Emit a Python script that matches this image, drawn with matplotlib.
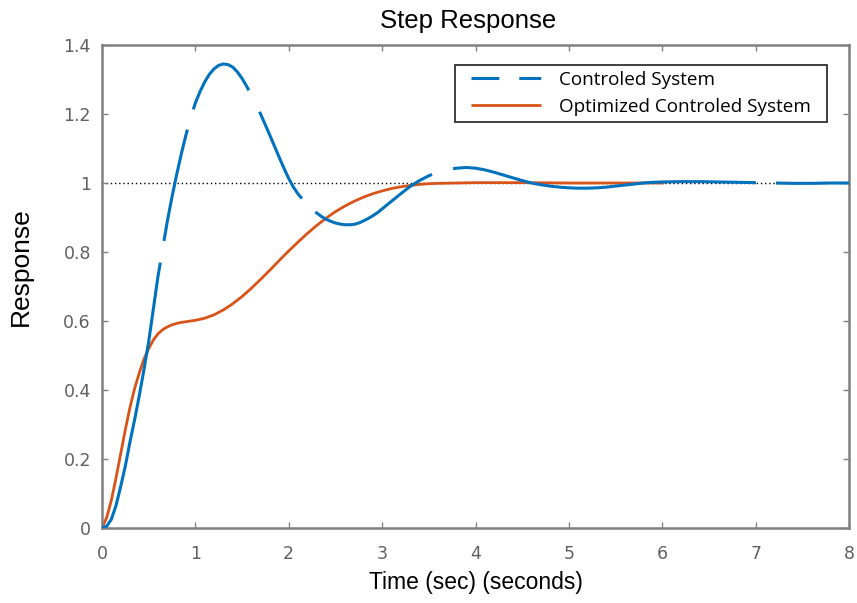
import matplotlib
matplotlib.use("Agg")
import matplotlib.pyplot as plt
from matplotlib.lines import Line2D

# ---- data ----
t_ctrl = [0.00, 0.05, 0.10, 0.15, 0.20, 0.25, 0.30, 0.35, 0.40, 0.45, 0.50, 0.55, 0.60, 0.65,
          0.70, 0.75, 0.80, 0.85, 0.90, 0.95, 1.00, 1.05, 1.10, 1.15, 1.20, 1.25, 1.30, 1.35,
          1.40, 1.45, 1.50, 1.55, 1.60, 1.65, 1.70, 1.75, 1.80, 1.85, 1.90, 1.95, 2.00, 2.05,
          2.10, 2.15, 2.20, 2.25, 2.30, 2.35, 2.40, 2.45, 2.50, 2.55, 2.60, 2.65, 2.70, 2.75,
          2.80, 2.85, 2.90, 2.95, 3.00, 3.10, 3.20, 3.30, 3.40, 3.50, 3.60, 3.70, 3.80, 3.90,
          4.00, 4.10, 4.20, 4.30, 4.40, 4.50, 4.60, 4.70, 4.80, 4.90, 5.00, 5.10, 5.20, 5.30,
          5.40, 5.50, 5.60, 5.70, 5.80, 5.90, 6.00, 6.20, 6.40, 6.60, 6.80, 7.00, 7.20, 7.40,
          7.60, 7.80, 8.00]
y_ctrl = [0.000, 0.005, 0.025, 0.065, 0.120, 0.180, 0.250, 0.315, 0.385, 0.460, 0.540, 0.635, 0.730, 0.810,
          0.890, 0.960, 1.025, 1.085, 1.140, 1.190, 1.232, 1.265, 1.293, 1.315, 1.331, 1.341, 1.345, 1.343,
          1.336, 1.322, 1.303, 1.280, 1.255, 1.228, 1.199, 1.168, 1.137, 1.105, 1.073, 1.042, 1.013, 0.988,
          0.968, 0.952, 0.937, 0.924, 0.913, 0.903, 0.895, 0.889, 0.884, 0.881, 0.879, 0.879, 0.880, 0.884,
          0.890, 0.897, 0.905, 0.914, 0.925, 0.947, 0.969, 0.990, 1.007, 1.021, 1.032, 1.039, 1.043, 1.045,
          1.043, 1.038, 1.031, 1.023, 1.015, 1.007, 1.000, 0.995, 0.991, 0.988, 0.986, 0.985, 0.985, 0.986,
          0.988, 0.991, 0.994, 0.997, 1.000, 1.002, 1.003, 1.004, 1.004, 1.003, 1.002, 1.001, 1.000, 0.999,
          0.999, 1.000, 1.000]

t_opt = [0.00, 0.05, 0.10, 0.15, 0.20, 0.25, 0.30, 0.35, 0.40, 0.45, 0.50, 0.55, 0.60, 0.65,
         0.70, 0.75, 0.80, 0.85, 0.90, 0.95, 1.00, 1.10, 1.20, 1.30, 1.40, 1.50, 1.60, 1.70,
         1.80, 1.90, 2.00, 2.10, 2.20, 2.30, 2.40, 2.50, 2.60, 2.70, 2.80, 2.90, 3.00, 3.10,
         3.20, 3.30, 3.40, 3.50, 3.60, 3.80, 4.00, 4.50, 5.00, 5.50, 6.00]
y_opt = [0.000, 0.030, 0.080, 0.145, 0.215, 0.285, 0.350, 0.405, 0.450, 0.490, 0.520, 0.545, 0.563, 0.575,
         0.583, 0.589, 0.593, 0.596, 0.598, 0.600, 0.602, 0.608, 0.618, 0.632, 0.650, 0.671, 0.695, 0.721,
         0.748, 0.776, 0.803, 0.829, 0.854, 0.877, 0.898, 0.917, 0.933, 0.947, 0.959, 0.969, 0.977, 0.984,
         0.989, 0.993, 0.996, 0.998, 0.999, 1.000, 1.001, 1.001, 1.000, 1.000, 1.000]

x_ticks = [0, 1, 2, 3, 4, 5, 6, 7, 8]
x_tick_labels = ["0", "1", "2", "3", "4", "5", "6", "7", "8"]
y_ticks = [0, 0.2, 0.4, 0.6, 0.8, 1.0, 1.2, 1.4]
y_tick_labels = ["0", "0.2", "0.4", "0.6", "0.8", "1", "1.2", "1.4"]
series_names = ["Controled System", "Optimized Controled System"]
steady_state = 1.0

# ---- style ----
plt.rcParams["lines.scale_dashes"] = False
BLUE = "#0072BD"
ORANGE = "#D95319"
GREY = "#808080"
TICKTXT = "#606060"

W, H = 857, 603
AX_L, AX_R, AX_T, AX_B = 102, 849, 45, 528
AW, AH = AX_R - AX_L, AX_B - AX_T

fig = plt.figure(figsize=(W / 100, H / 100), dpi=100)
ax = fig.add_axes([AX_L / W, 1 - AX_B / H, AW / W, AH / H])

ax.axhline(steady_state, color="black", linestyle=(0, (1, 2)), linewidth=1.0, zorder=1)

ctrl_dashes = (0, (198, 15.8, 82, 15.1, 68.4, 17.3, 69.8, 13.7, 97.2, 15.8, 220, 14.4, 200, 1))
ax.plot(t_ctrl, y_ctrl, color=BLUE, linewidth=2.2, linestyle=ctrl_dashes, zorder=3)
ax.plot(t_opt, y_opt, color=ORANGE, linewidth=2.0, zorder=2)

ax.set_xlim(0, 8)
ax.set_ylim(0, 1.4)
ax.set_xticks(x_ticks)
ax.set_xticklabels(x_tick_labels, family="DejaVu Sans", fontsize=12.5, color=TICKTXT)
ax.set_yticks(y_ticks)
ax.set_yticklabels(y_tick_labels, family="DejaVu Sans", fontsize=12.5, color=TICKTXT)
ax.tick_params(direction="in", length=4, width=1, color=GREY, top=True, right=True)
ax.tick_params(axis="x", pad=12)
ax.tick_params(axis="y", pad=8)
for s in ax.spines.values():
    s.set_color(GREY)
    s.set_linewidth(1.8)

ax.set_title("Step Response", family="Liberation Sans", fontsize=18.5, pad=12)
ax.title.set_x((468 - AX_L) / AW)
ax.set_xlabel("Time (sec) (seconds)", family="Liberation Sans", fontsize=16.5, labelpad=6)
ax.set_ylabel("Response", family="Liberation Sans", fontsize=19)
ax.yaxis.set_label_coords(-69 / AW, (AX_B - 267) / AH)

# legend handles: leading gap so the visible stroke sits like the reference
handles = [
    Line2D([], [], color=BLUE, linewidth=2.2, linestyle=(50.2, (20, 14.4, 15.8, 7.2))),
    Line2D([], [], color=ORANGE, linewidth=2.0, linestyle=(50.4, (50.4, 7.2))),
]
leg = ax.legend(handles, series_names, loc="upper left", mode="expand",
                bbox_to_anchor=((455 - AX_L) / AW, (AX_B - 65) / AH, (827 - 455) / AW, 0.0),
                borderaxespad=0, prop={"family": "Open Sans", "size": 13.6},
                handlelength=4.25, handletextpad=0.95, labelspacing=0.5,
                borderpad=0.3, fancybox=False, framealpha=1, edgecolor="#303030")
leg.get_frame().set_linewidth(1.3)

fig.savefig("out.png", dpi=100)
